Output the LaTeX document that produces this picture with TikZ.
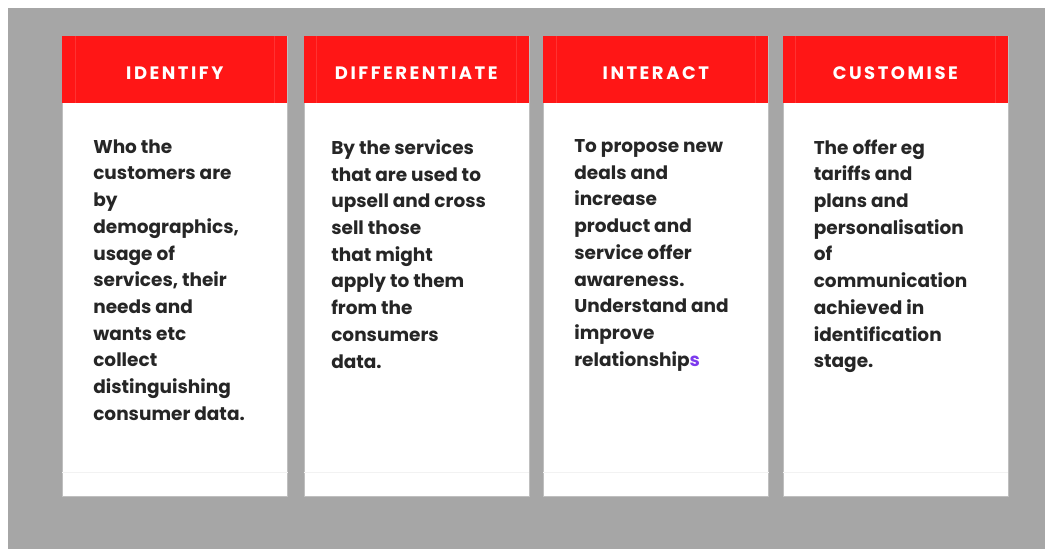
\documentclass[tikz,border=0pt]{standalone}
\usepackage{fontspec}
\setmainfont{Poppins}
\newfontfamily\headfont{Poppins}[LetterSpace=14]
\usetikzlibrary{positioning}
\definecolor{cardred}{RGB}{255,22,22}
\definecolor{backgray}{RGB}{166,166,166}
\definecolor{accent}{RGB}{124,58,237}
\tikzset{
	card/.style = {
		rectangle,
		anchor=north west,
		inner sep=0pt,
		fill=white,
		draw=black!25,
		line width=0.6pt,
		minimum width=225pt,
		minimum height=460pt
	},
	cardhead/.style = {
		rectangle,
		anchor=north,
		inner sep=0pt,
		fill=cardred,
		text=white,
		font=\headfont\bfseries\fontsize{18}{20}\selectfont,
		text height=18.6pt,
		text depth=0pt,
		minimum width=225pt,
		minimum height=67pt
	},
	cardbody/.style = {
		align=left,
		inner sep=0pt,
		text=black!85,
		font=\bfseries\fontsize{18.5}{26.7}\selectfont
	},
	cardrule/.style = {
		draw=black!5,
		line width=0.8pt
	},
	headseam/.style = {
		draw=white,
		draw opacity=0.12,
		line width=0.8pt
	},
}

\begin{document}
\begin{tikzpicture}[x=1pt,y=-1pt]
\useasboundingbox (0,0) rectangle (1045,549);
\fill[backgray] (8,8) rectangle (1045,549);

% identify
\node [card] (identify) at (62,36) {};
\node [cardhead] (identify_head) at (identify.north) {IDENTIFY};
\draw [headseam] ([xshift=13pt]identify_head.north west) -- ([xshift=13pt]identify_head.south west);
\draw [headseam] ([xshift=-13pt]identify_head.north east) -- ([xshift=-13pt]identify_head.south east);
\node [cardbody, below right=36pt and 31pt of identify_head.south west] (identify_text) {Who the\\customers are\\by\\demographics,\\usage of\\services, their\\needs and\\wants etc\\collect\\distinguishing\\consumer data.};
\draw [cardrule] ([yshift=24pt]identify.south west) -- ([yshift=24pt]identify.south east);

% differentiate
\node [card] (differentiate) at (303.5,36) {};
\node [cardhead] (differentiate_head) at (differentiate.north) {DIFFERENTIATE};
\draw [headseam] ([xshift=13pt]differentiate_head.north west) -- ([xshift=13pt]differentiate_head.south west);
\draw [headseam] ([xshift=-13pt]differentiate_head.north east) -- ([xshift=-13pt]differentiate_head.south east);
\node [cardbody, below right=36pt and 27.5pt of differentiate_head.south west] (differentiate_text) {By the services\\that are used to\\upsell and cross\\sell those\\that might\\apply to them\\from the\\consumers\\data.};
\draw [cardrule] ([yshift=24pt]differentiate.south west) -- ([yshift=24pt]differentiate.south east);

% interact
\node [card] (interact) at (543,36) {};
\node [cardhead] (interact_head) at (interact.north) {INTERACT};
\draw [headseam] ([xshift=13pt]interact_head.north west) -- ([xshift=13pt]interact_head.south west);
\draw [headseam] ([xshift=-13pt]interact_head.north east) -- ([xshift=-13pt]interact_head.south east);
\node [cardbody, below right=36pt and 31pt of interact_head.south west] (interact_text) {To propose new\\deals and\\increase\\product and\\service offer\\awareness.\\Understand and\\improve\\relationship\textcolor{accent}{s}};
\draw [cardrule] ([yshift=24pt]interact.south west) -- ([yshift=24pt]interact.south east);

% customise
\node [card] (customise) at (782.5,36) {};
\node [cardhead] (customise_head) at (customise.north) {CUSTOMISE};
\draw [headseam] ([xshift=13pt]customise_head.north west) -- ([xshift=13pt]customise_head.south west);
\draw [headseam] ([xshift=-13pt]customise_head.north east) -- ([xshift=-13pt]customise_head.south east);
\node [cardbody, below right=36pt and 31pt of customise_head.south west] (customise_text) {The offer eg\\tariffs and\\plans and\\personalisation\\of\\communication\\achieved in\\identification\\stage.};
\draw [cardrule] ([yshift=24pt]customise.south west) -- ([yshift=24pt]customise.south east);
\end{tikzpicture}
\end{document}
